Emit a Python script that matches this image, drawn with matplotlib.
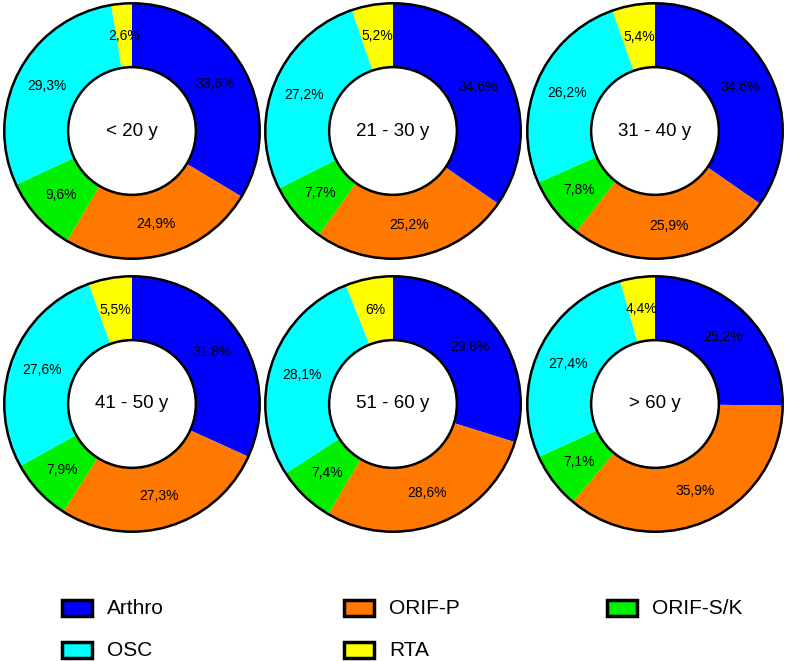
import matplotlib
matplotlib.use("Agg")
import matplotlib.pyplot as plt
import numpy as np
from matplotlib.patches import Circle, Rectangle

plt.rcParams['font.family'] = ['Liberation Sans', 'DejaVu Sans']

categories = ['Arthro', 'ORIF-P', 'ORIF-S/K', 'OSC', 'RTA']
groups = ['< 20 y', '21 - 30 y', '31 - 40 y', '41 - 50 y', '51 - 60 y', '> 60 y']
arthro = [33.6, 34.6, 34.6, 31.8, 29.8, 25.2]
orif_p = [24.9, 25.2, 25.9, 27.3, 28.6, 35.9]
orif_sk = [9.6, 7.7, 7.8, 7.9, 7.4, 7.1]
osc = [29.3, 27.2, 26.2, 27.6, 28.1, 27.4]
rta = [2.6, 5.2, 5.4, 5.5, 6.0, 4.4]

colors = ['#0000FF', '#FF7800', '#00F000', '#00FFFF', '#FFFF00']

W, H = 789, 661
fig = plt.figure(figsize=(W / 100, H / 100), dpi=100)

centers_x = [132, 393, 655]
centers_y = [131, 404]
R = 129

def fmt(v):
    return f"{v:g}".replace('.', ',') + '%'

for i, g in enumerate(groups):
    r, c = divmod(i, 3)
    cx, cy = centers_x[c], centers_y[r]
    ax = fig.add_axes([(cx - R) / W, 1 - (cy + R) / H, 2 * R / W, 2 * R / H])
    vals = [arthro[i], orif_p[i], orif_sk[i], osc[i], rta[i]]
    wedges, _ = ax.pie(vals, colors=colors, startangle=90, counterclock=False,
                       radius=1.0, wedgeprops=dict(width=0.5, linewidth=0))
    for w, v in zip(wedges, vals):
        ang = np.deg2rad((w.theta1 + w.theta2) / 2)
        ax.text(0.75 * np.cos(ang), 0.75 * np.sin(ang), fmt(v),
                ha='center', va='center', fontsize=10)
    ax.add_patch(Circle((0, 0), 1.0, fill=False, edgecolor='black', linewidth=1.8))
    ax.add_patch(Circle((0, 0), 0.5, fill=False, edgecolor='black', linewidth=1.8))
    ax.text(0, 0, g, ha='center', va='center', fontsize=13.5)
    ax.set_xlim(-1.01, 1.01)
    ax.set_ylim(-1.01, 1.01)
    ax.set_aspect('equal')
    ax.axis('off')

# legend
lax = fig.add_axes([0, 0, 1, 1])
lax.set_xlim(0, W)
lax.set_ylim(H, 0)
lax.axis('off')
patch_x = [62, 344, 607]
text_x = [107, 389, 652]
row_y = [608, 650]
for k, (name, col) in enumerate(zip(categories, colors)):
    rr, cc = divmod(k, 3)
    lax.add_patch(Rectangle((patch_x[cc], row_y[rr] - 8), 30, 16, facecolor=col,
                            edgecolor='black', linewidth=2.5))
    lax.text(text_x[cc], row_y[rr], name, ha='left', va='center', fontsize=15)

fig.savefig('out.png', dpi=100)
